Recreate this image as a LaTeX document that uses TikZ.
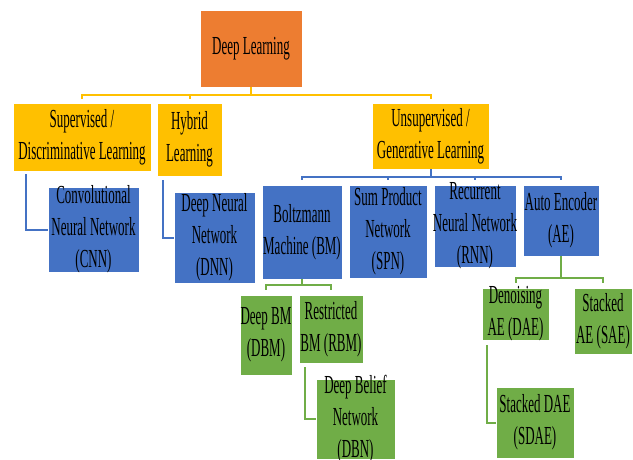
\documentclass[tikz,border=0pt]{standalone}
\usepackage{fontspec}
\setmainfont{Liberation Serif}[FakeStretch=0.5]
\usetikzlibrary{positioning}
\definecolor{dlorange}{HTML}{ED7D31}
\definecolor{dlyellow}{HTML}{FFC000}
\definecolor{dlblue}{HTML}{4472C4}
\definecolor{dlgreen}{HTML}{70AD47}
\newcommand{\boxfont}{\fontsize{26}{32}\selectfont}
\tikzset{
  box/.style={rectangle, inner sep=0pt, draw=white, line width=0.6pt},
  orangebox/.style={box, fill=dlorange},
  yellowbox/.style={box, fill=dlyellow},
  bluebox/.style={box, fill=dlblue},
  greenbox/.style={box, fill=dlgreen},
  txt/.style={align=center, inner sep=0pt, font=\boxfont},
  yline/.style={draw=dlyellow, line width=2pt},
  bline/.style={draw=dlblue, line width=2pt},
  gline/.style={draw=dlgreen, line width=2pt},
}
\begin{document}
\begin{tikzpicture}[x=1pt, y=-1pt]
\useasboundingbox (0,0) rectangle (633,459);
% Root
\node[orangebox, minimum width=102pt, minimum height=77pt, label={[txt]center:Deep Learning}] (dl) at (251,48.5) {};

% Learning types
\node[yellowbox, minimum width=138pt, minimum height=68pt, label={[txt]center:{Supervised /\\Discriminative Learning}}] (sup) at (82,137) {};
\node[yellowbox, minimum width=65pt, minimum height=73pt, label={[txt]center:{Hybrid\\Learning}}] (hyb) at (189.5,139.5) {};
\node[yellowbox, minimum width=117pt, minimum height=66pt, label={[txt]center:{Unsupervised /\\Generative Learning}}] (unsup) at (430.5,136) {};

% Networks
\node[bluebox, minimum width=91pt, minimum height=85pt, label={[txt]center:{Convolutional\\Neural Network\\(CNN)}}] (cnn) at (93.5,229.5) {};
\node[bluebox, minimum width=81pt, minimum height=91pt, label={[txt]center:{Deep Neural\\Network\\(DNN)}}] (dnn) at (214.5,237.5) {};
\node[bluebox, minimum width=80pt, minimum height=94pt, label={[txt]center:{Boltzmann\\Machine (BM)}}] (bm) at (302,232) {};
\node[bluebox, minimum width=78pt, minimum height=93pt, label={[txt]center:{Sum Product\\Network\\(SPN)}}] (spn) at (388,231.5) {};
\node[bluebox, minimum width=82pt, minimum height=82pt, label={[txt]center:{Recurrent\\Neural Network\\(RNN)}}] (rnn) at (475,226) {};
\node[bluebox, minimum width=76pt, minimum height=71pt, label={[txt]center:{Auto Encoder\\(AE)}}] (ae) at (561,220.5) {};

% Variants
\node[greenbox, minimum width=52pt, minimum height=80pt, label={[txt]center:{Deep BM\\(DBM)}}] (dbm) at (266,335) {};
\node[greenbox, minimum width=64pt, minimum height=68pt, label={[txt]center:{Restricted\\BM (RBM)}}] (rbm) at (331,329) {};
\node[greenbox, minimum width=79pt, minimum height=80pt, label={[txt]center:{Deep Belief\\Network\\(DBN)}}] (dbn) at (355.5,419) {};
\node[greenbox, minimum width=67pt, minimum height=52pt, label={[txt]center:{Denoising\\AE (DAE)}}] (dae) at (515.5,314) {};
\node[greenbox, minimum width=58pt, minimum height=66pt, label={[txt]center:{Stacked\\AE (SAE)}}] (sae) at (603,321) {};
\node[greenbox, minimum width=78pt, minimum height=71pt, label={[txt]center:{Stacked DAE\\(SDAE)}}] (sdae) at (535,422.5) {};

% Connectors
\coordinate (ybus) at (0,95);
\draw[yline] (dl.south) -- (dl.south |- ybus);
\draw[yline] ([yshift=4pt]sup.north) |- (ybus -| unsup.north) -- ([yshift=4pt]unsup.north);
\draw[yline] ([yshift=4pt]hyb.north) -- (hyb.north |- ybus);

\coordinate (bbus) at (0,177);
\draw[bline] (unsup.south) -- (unsup.south |- bbus);
\draw[bline] ([yshift=5pt]bm.north) |- (bbus -| ae.north) -- ([yshift=5pt]ae.north);
\foreach \n in {spn,rnn} {
  \draw[bline] ([yshift=5pt]\n.north) -- (\n.north |- bbus);
}
\draw[bline] ([xshift=13pt,yshift=-3pt]sup.south west) |- (cnn.west);
\draw[bline] ([xshift=6pt,yshift=-4pt]hyb.south west) |- (dnn.west);

\coordinate (gbus) at (0,285);
\draw[gline] (bm.south) -- (bm.south |- gbus);
\draw[gline] ([yshift=5pt]dbm.north) |- (gbus -| rbm.north) -- ([yshift=5pt]rbm.north);
\draw[gline] ([xshift=6pt,yshift=-4pt]rbm.south west) |- (dbn.west);

\coordinate (abus) at (0,278);
\draw[gline] (ae.south) -- (ae.south |- abus);
\draw[gline] ([yshift=5pt]dae.north) |- (abus -| sae.north) -- ([yshift=5pt]sae.north);
\draw[gline] ([xshift=5pt,yshift=-5pt]dae.south west) |- (sdae.west);
\end{tikzpicture}
\end{document}
